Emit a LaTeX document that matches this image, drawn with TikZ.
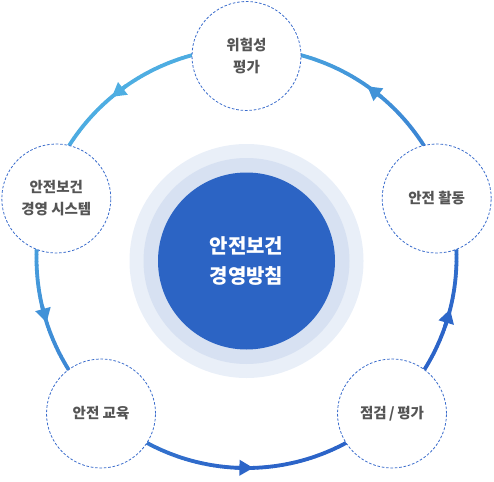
\documentclass[tikz,border=0pt]{standalone}
\usepackage{fontspec}
\setmainfont{Noto Sans CJK KR}
\usetikzlibrary{arrows.meta,calc}
\definecolor{arclight}{RGB}{78,174,226}
\definecolor{arcdark}{RGB}{44,100,200}
\definecolor{ringA}{RGB}{233,239,248}
\definecolor{ringB}{RGB}{215,225,242}
\definecolor{core}{RGB}{44,100,196}
\definecolor{dashblue}{RGB}{58,108,204}
\definecolor{txtgray}{RGB}{85,85,85}
\tikzset{
  outerbox/.style={circle, minimum size=109pt, inner sep=0pt, fill=white,
    draw=dashblue, line width=0.8pt, dash pattern=on 2.6pt off 1.8pt,
    text=txtgray, align=center, font=\bfseries\fontsize{14.5}{22}\selectfont},
  corebox/.style={circle, minimum size=177pt, inner sep=0pt, fill=core,
    text=white, align=center, font=\bfseries\fontsize{20}{30}\selectfont},
}
\begin{document}
\begin{tikzpicture}[x=1pt,y=-1pt]
\useasboundingbox (0,0) rectangle (494,481);
% concentric rings
\fill[ringA] (246.5,261) circle[radius=117];
\fill[ringB] (246.5,261) circle[radius=103];
\node[corebox] (core) at (246.5,261) {안전보건\\경영방침};
% gradient ring
\coordinate (ctr) at (246.5,258);
\foreach \i in {0,...,359} {
  \pgfmathsetmacro{\px}{246.5+210*cos(\i+0.5)}
  \pgfmathsetmacro{\py}{258+210*sin(\i+0.5)}
  \pgfmathsetmacro{\t}{max(0,min(100,(0.56*\px+0.83*\py-140)/3.9))}
  \draw[line width=3.8pt, line cap=round, color=arcdark!\t!arclight]
    ($(ctr)+(\i:210)$) -- ($(ctr)+(\i+1:210)$);
}
% arrowheads
\foreach \p in {232,164,90,16,307} {
  \pgfmathsetmacro{\px}{246.5+210*cos(\p)}
  \pgfmathsetmacro{\py}{258+210*sin(\p)}
  \pgfmathsetmacro{\t}{max(0,min(100,(0.56*\px+0.83*\py-140)/3.9))}
  \draw[line width=3.8pt, color=arcdark!\t!arclight,
    -{Triangle[length=14pt,width=15pt]}]
    ($(ctr)+(\p+3:210)$) -- ($(ctr)+(\p-1.9:210)$);
}
% outer nodes
\node[outerbox] (risk) at (246.5,56) {위험성\\평가};
\node[outerbox] (sys) at (56.3,198.5) {안전보건\\경영 시스템};
\node[outerbox] (act) at (436.7,198.5) {안전 활동};
\node[outerbox] (edu) at (101,413.5) {안전 교육};
\node[outerbox] (chk) at (392,413.5) {점검\hspace{2.5pt}/\hspace{2.5pt}평가};
\end{tikzpicture}
\end{document}
